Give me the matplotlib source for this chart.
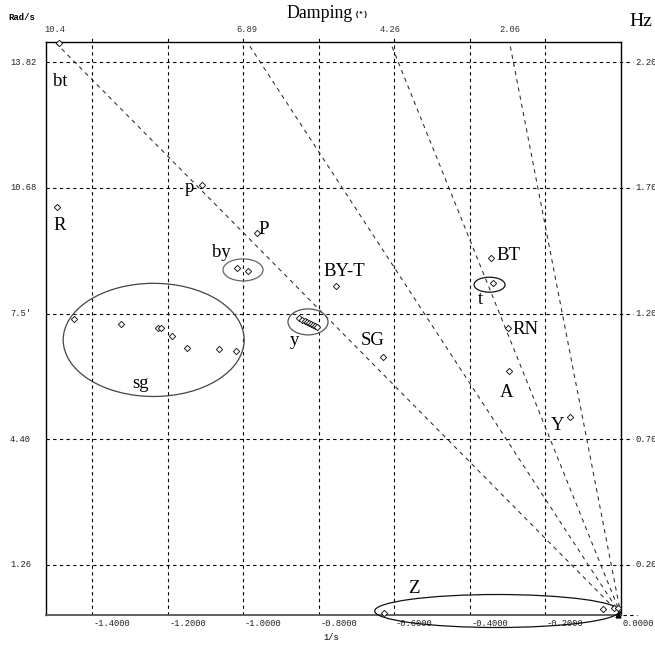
import numpy as np
import matplotlib
matplotlib.use("Agg")
import matplotlib.pyplot as plt
from matplotlib.patches import Ellipse
from matplotlib.transforms import blended_transform_factory
from matplotlib.lines import Line2D

# ---- data: real part (1/s) and imaginary part (rad/s) of the modes ----
bt_sigma, bt_omega = [-1.488], [14.30]
R_sigma, R_omega = [-1.493], [10.20]
p_sigma, p_omega = [-1.109], [10.75]
P_sigma, P_omega = [-0.964], [9.55]
by_sigma = [-1.016, -0.987]
by_omega = [8.68, 8.60]
BYT_sigma, BYT_omega = [-0.754], [8.23]
y_sigma = [-0.852, -0.844, -0.836, -0.831, -0.826, -0.821, -0.815, -0.810, -0.805]
y_omega = [7.43, 7.38, 7.35, 7.33, 7.30, 7.28, 7.25, 7.23, 7.20]
SG_sigma, SG_omega = [-0.630], [6.45]
sg_sigma = [-1.448, -1.324, -1.226, -1.218, -1.189, -1.149, -1.064, -1.019]
sg_omega = [7.40, 7.28, 7.18, 7.18, 6.98, 6.68, 6.65, 6.60]
BT_sigma, BT_omega = [-0.344], [8.93]
t_sigma, t_omega = [-0.339], [8.30]
RN_sigma, RN_omega = [-0.299], [7.18]
A_sigma, A_omega = [-0.297], [6.10]
Y_sigma, Y_omega = [-0.135], [4.95]
Z_sigma = [-0.627, -0.048, -0.019, -0.008]
Z_omega = [0.05, 0.15, 0.175, 0.175]
origin_sigma, origin_omega = [-0.008], [0.01]

# damping ratio rays (%)
damping_pct = [10.4, 6.89, 4.26, 2.06]

# axis ticks
x_ticks = [-1.4, -1.2, -1.0, -0.8, -0.6, -0.4, -0.2, 0.0]
hz_ticks = [0.2, 0.7, 1.2, 1.7, 2.2]
rad_labels = ["1.26", "4.40", "7.5'", "10.68", "13.82"]
hz_labels = ["0.20", "0.70", "1.20", "1.70", "2.20"]

XMIN, XMAX = -1.522, 0.0
YMIN, YMAX = 0.0, 14.33

W, H = 655, 649
fig = plt.figure(figsize=(W / 100, H / 100), dpi=100)
ax = fig.add_axes([46 / W, (H - 615) / H, 575 / W, 573 / H])
ax.set_xlim(XMIN, XMAX)
ax.set_ylim(YMIN, YMAX)
ax.set_xticks([])
ax.set_yticks([])
for s in ax.spines.values():
    s.set_color("black")
    s.set_linewidth(1.0)
ax.spines["bottom"].set_color("#555555")
ax.spines["bottom"].set_linewidth(1.3)

mono = "Liberation Mono"
serif = "Liberation Serif"
grid_ls = (0, (3, 3))

# vertical grid at sigma ticks
for xv in x_ticks[:-1]:
    ax.add_line(Line2D([xv, xv], [YMIN, YMAX + 0.15], color="black", lw=0.8,
                       ls=grid_ls, clip_on=False))

# horizontal grid at Hz levels, extending past the right frame
xt = blended_transform_factory(ax.transAxes, ax.transData)
for f in hz_ticks:
    w = 2 * np.pi * f
    ax.add_line(Line2D([0, 1.02], [w, w], transform=xt, color="black", lw=0.8,
                       ls=grid_ls, clip_on=False))
ax.add_line(Line2D([1.003, 1.028], [0, 0], transform=xt, color="black", lw=0.8,
                   ls=grid_ls, clip_on=False))

# constant-damping rays from the origin
top_t = blended_transform_factory(ax.transData, fig.transFigure)
for zp in damping_pct:
    z = zp / 100.0
    k = z / np.sqrt(1 - z * z)
    xs = -k * YMAX
    ax.plot([0, xs], [0, YMAX], color="#2a2a2a", lw=0.75, ls=(0, (4, 4)),
            clip_on=False)
    ax.text(xs, 1 - 29 / H, f"{zp:g}", transform=top_t, ha="center",
            va="center", fontsize=6.3, family=mono, color="#333333")

# modes
mk = dict(marker="D", ms=3.2, mfc="white", mec="#222222", mew=0.7, ls="none",
          zorder=5)
groups = [(bt_sigma, bt_omega), (R_sigma, R_omega), (p_sigma, p_omega),
          (P_sigma, P_omega), (by_sigma, by_omega), (BYT_sigma, BYT_omega),
          (y_sigma, y_omega), (SG_sigma, SG_omega), (sg_sigma, sg_omega),
          (BT_sigma, BT_omega), (t_sigma, t_omega), (RN_sigma, RN_omega),
          (A_sigma, A_omega), (Y_sigma, Y_omega), (Z_sigma, Z_omega)]
for sx, sy in groups:
    ax.plot(sx, sy, clip_on=False, **mk)
ax.plot(origin_sigma, origin_omega, marker="^", ms=3.5, color="black",
        ls="none", clip_on=False, zorder=6)

# mode labels
labels = ["bt", "R", "p", "P", "by", "BY-T", "y", "SG", "sg", "BT", "t",
          "RN", "A", "Y", "Z"]
label_xy = [(-1.484, 13.35), (-1.487, 9.73), (-1.143, 10.68), (-0.945, 9.63),
            (-1.057, 9.07), (-0.733, 8.60), (-0.864, 6.87), (-0.656, 6.87),
            (-1.272, 5.78), (-0.299, 8.98), (-0.371, 7.88), (-0.252, 7.15),
            (-0.304, 5.57), (-0.169, 4.75), (-0.549, 0.67)]
for txt, (lx, ly) in zip(labels, label_xy):
    ax.text(lx, ly, txt, ha="center", va="center", fontsize=13.5,
            family=serif, color="black", zorder=7)

# cluster outlines
ellipses = [((-1.237, 6.88), 0.479, 2.83, "#444444"),
            ((-1.0005, 8.63), 0.106, 0.55, "#666666"),
            ((-0.8285, 7.33), 0.106, 0.65, "#555555"),
            ((-0.348, 8.26), 0.082, 0.375, "#111111"),
            ((-0.328, 0.10), 0.648, 0.825, "#111111")]
for c, ew, eh, col in ellipses:
    ax.add_patch(Ellipse(c, ew, eh, fill=False, edgecolor=col, lw=0.9,
                         clip_on=False, zorder=4))

# x tick labels (left aligned at the grid line)
for xv in x_ticks:
    ax.text(xv + 0.004, -0.1, f"{xv:.4f}", ha="left", va="top", fontsize=6.3,
            family=mono, color="#222222")
fig.text(331 / W, 1 - 638 / H, "1/s", ha="center", va="center", fontsize=6.3,
         family=mono)

# left rad/s labels and right Hz labels
lt = blended_transform_factory(fig.transFigure, ax.transData)
for f, lab, hl in zip(hz_ticks, rad_labels, hz_labels):
    w = 2 * np.pi * f
    ax.text(10 / W, w, lab, transform=lt, ha="left", va="center",
            fontsize=6.3, family=mono, color="#222222")
    ax.text(635 / W, w, hl, transform=lt, ha="left", va="center",
            fontsize=6.5, family=mono, color="#222222")

fig.text(8 / W, 1 - 18 / H, "Rad/s", ha="left", va="center", fontsize=6.4,
         family=mono, fontweight="bold")
fig.text(320 / W, 1 - 13 / H, "Damping", ha="center", va="center",
         fontsize=12.8, family=serif)
fig.text(362 / W, 1 - 15 / H, "(*)", ha="center", va="center", fontsize=5.5,
         family=mono, fontweight="bold")
fig.text(641 / W, 1 - 22 / H, "Hz", ha="center", va="center", fontsize=14,
         family=serif)

fig.savefig("out.png", dpi=100)
